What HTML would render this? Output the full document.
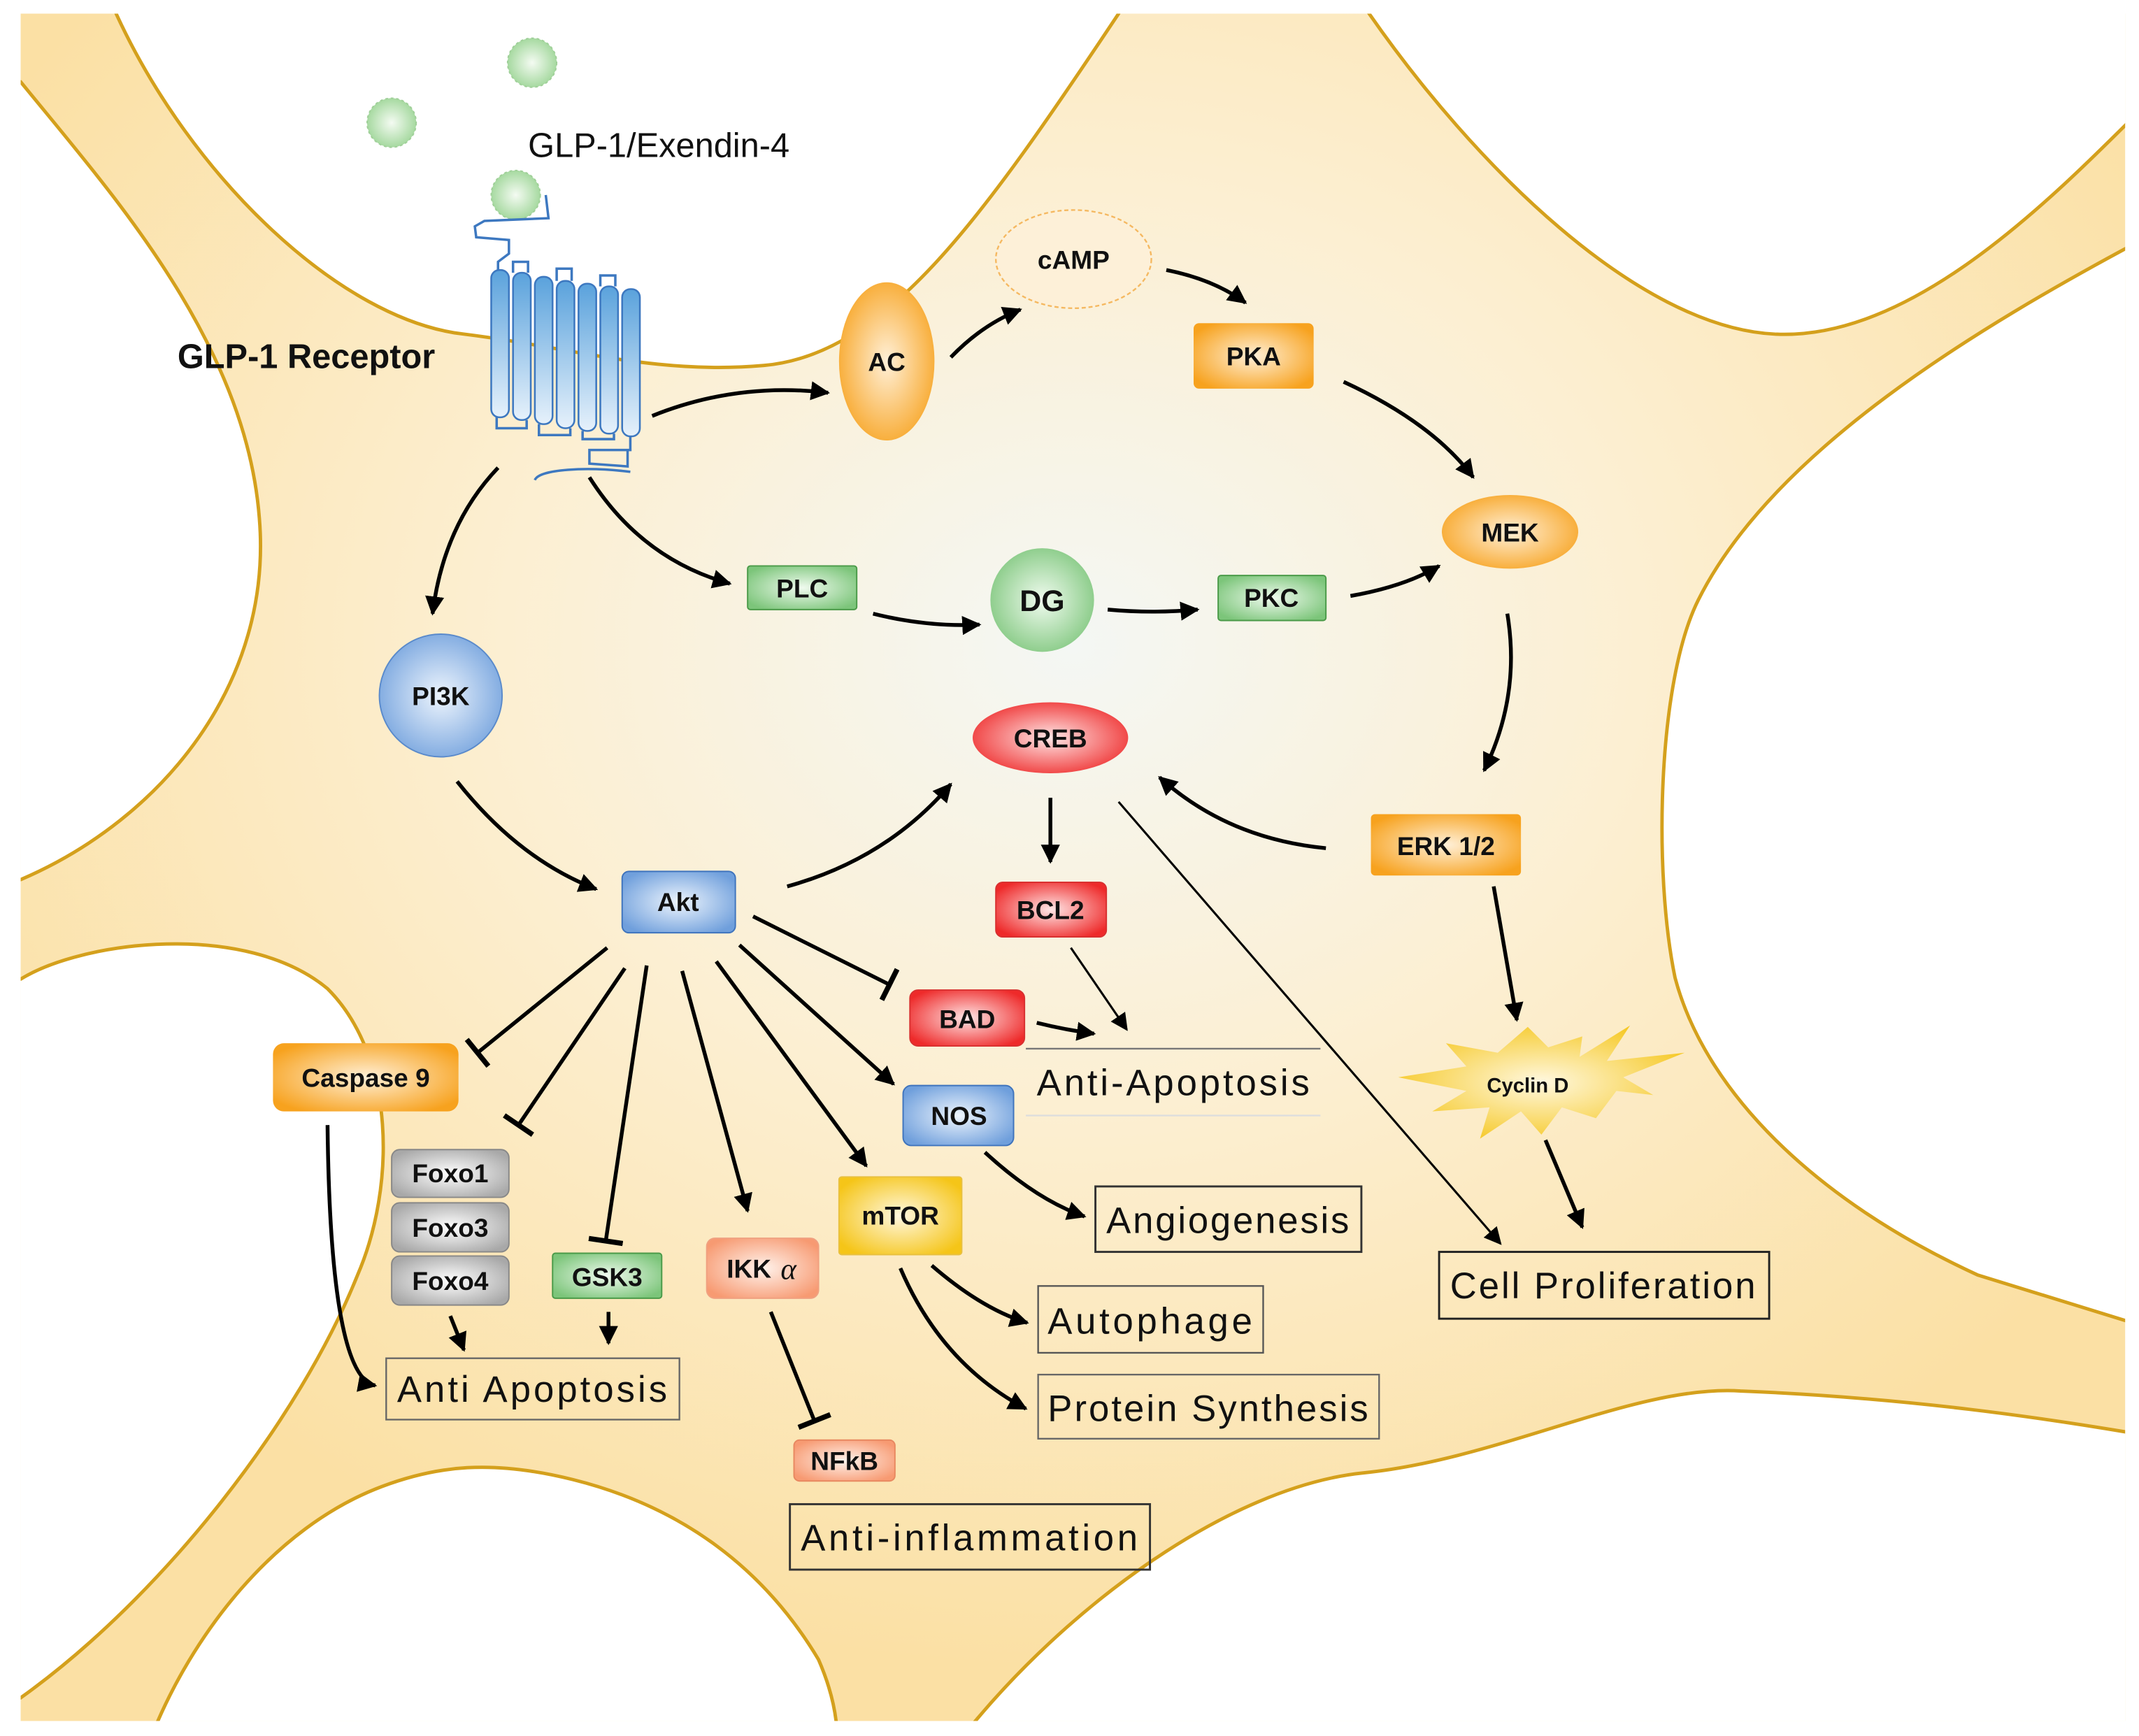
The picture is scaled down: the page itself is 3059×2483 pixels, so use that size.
<!DOCTYPE html>
<html><head><meta charset="utf-8"><style>html,body{margin:0;padding:0;background:#fff}svg{display:block}</style></head>
<body>
<svg width="3059" height="2483" viewBox="0 0 1568 1273" xmlns="http://www.w3.org/2000/svg" font-family="'Liberation Sans', sans-serif">
<defs>
<radialGradient id="bg" cx="0.5" cy="0.37" r="0.6">
<stop offset="0" stop-color="#f4f7f4"/><stop offset="0.45" stop-color="#fcefd2"/><stop offset="1" stop-color="#fbe0a4"/></radialGradient>
<radialGradient id="or" cx="0.5" cy="0.5" r="0.6"><stop offset="0" stop-color="#fff0d8"/><stop offset="1" stop-color="#f7a21e"/></radialGradient>
<radialGradient id="gr" cx="0.5" cy="0.5" r="0.6"><stop offset="0" stop-color="#f0fbef"/><stop offset="1" stop-color="#7cc57a"/></radialGradient>
<radialGradient id="bl" cx="0.5" cy="0.5" r="0.6"><stop offset="0" stop-color="#eef5fd"/><stop offset="1" stop-color="#6f9fdc"/></radialGradient>
<radialGradient id="rd" cx="0.5" cy="0.5" r="0.6"><stop offset="0" stop-color="#ffe6e6"/><stop offset="1" stop-color="#ee2a2a"/></radialGradient>
<radialGradient id="gy" cx="0.5" cy="0.5" r="0.6"><stop offset="0" stop-color="#ffffff"/><stop offset="1" stop-color="#a8a8a8"/></radialGradient>
<radialGradient id="sa" cx="0.5" cy="0.5" r="0.6"><stop offset="0" stop-color="#fff3ec"/><stop offset="1" stop-color="#f79a72"/></radialGradient>
<radialGradient id="ye" cx="0.5" cy="0.5" r="0.6"><stop offset="0" stop-color="#fff8e0"/><stop offset="1" stop-color="#f5c518"/></radialGradient>
<radialGradient id="lg" cx="0.5" cy="0.5" r="0.5"><stop offset="0" stop-color="#f4fbf2"/><stop offset="1" stop-color="#a6d9a0"/></radialGradient>
<linearGradient id="hx" x1="0" y1="0" x2="0" y2="1"><stop offset="0" stop-color="#5aa2dc"/><stop offset="1" stop-color="#e6f1fb"/></linearGradient>
<clipPath id="cl"><rect x="15" y="10" width="1543" height="1252"/></clipPath>
<marker id="ar" viewBox="0 0 10 10" refX="9" refY="5" markerWidth="5" markerHeight="5" orient="auto" markerUnits="strokeWidth"><path d="M0,0 L10,5 L0,10 z" fill="#000"/></marker>
<marker id="ar2" viewBox="0 0 10 10" refX="9" refY="5" markerWidth="8" markerHeight="8" orient="auto" markerUnits="strokeWidth"><path d="M0,0 L10,5 L0,10 z" fill="#000"/></marker>
<marker id="tee" viewBox="0 0 3 20" refX="1.5" refY="10" markerWidth="3" markerHeight="9" orient="auto" markerUnits="strokeWidth"><rect x="0" y="0" width="3" height="20" fill="#000"/></marker>
</defs>

<rect x="15" y="10" width="1543" height="1252" fill="url(#bg)"/>
<g clip-path="url(#cl)" fill="#fff" stroke="#d4a01c" stroke-width="2.5">
<path d="M85,-5 L85,10 C140,130 250,235 340,245 C420,255 480,275 560,268 C650,260 720,160 820,10 L820,-5 Z"/>
<path d="M0,60 L15,60 C80,140 180,250 190,380 C200,500 120,600 15,645 L0,645 Z"/>
<path d="M1003,-5 L1003,9 C1080,120 1200,240 1301,245 C1400,250 1500,150 1570,80 L1570,-5 Z"/>
<path d="M1570,176 C1450,240 1300,330 1245,440 C1215,500 1212,640 1228,717 C1250,800 1330,880 1450,935 L1570,972 Z"/>
<path d="M0,718 L15,718 C60,690 180,675 240,725 C290,775 290,870 262,935 C220,1040 120,1170 15,1245 L0,1245 Z"/>
<path d="M111,1280 L111,1273 C140,1200 200,1120 280,1090 C320,1075 360,1070 420,1085 C500,1105 560,1150 600,1217 C610,1240 614,1260 614,1280 Z"/>
<path d="M706,1280 L706,1273 C780,1180 900,1090 1000,1080 C1100,1070 1200,1015 1276,1020 C1400,1025 1500,1040 1570,1052 L1570,1280 Z"/>
</g>

<!-- ligands -->
<circle cx="287" cy="90" r="18" fill="url(#lg)" stroke="#9fcf98" stroke-dasharray="2 2"/>
<circle cx="390" cy="46" r="18" fill="url(#lg)" stroke="#9fcf98" stroke-dasharray="2 2"/>
<circle cx="378" cy="143" r="18" fill="url(#lg)" stroke="#9fcf98" stroke-dasharray="2 2"/>
<text x="387" y="115" font-size="25" fill="#111">GLP-1/Exendin-4</text>
<text x="130" y="270" font-size="25" font-weight="bold" fill="#111">GLP-1 Receptor</text>

<!-- receptor -->
<g stroke="#3d78c0" stroke-width="1.8" fill="none">
<path d="M400,143 L402,160 L355,162 L348,166 L349,174 L373,176 L373,186 L365,192 L365,198"/>
<path d="M376,200 L376,192 L387,192 L387,200"/>
<path d="M408,206 L408,197 L419,197 L419,206"/>
<path d="M440,210 L440,202 L451,202 L451,210"/>
<path d="M364,306 L364,314 L386,314 L386,308"/>
<path d="M395,311 L395,319 L418,319 L418,314"/>
<path d="M427,316 L427,322 L450,322 L450,318"/>
<path d="M462,320 L462,330 L432,330 L432,340 L460,342 L460,330"/>
<path d="M392,352 C395,344 430,342 462,346"/>
</g>
<g stroke="#3d78c0" stroke-width="1.3" fill="url(#hx)">
<rect x="360" y="198" width="13" height="108" rx="6"/>
<rect x="376" y="200" width="13" height="108" rx="6"/>
<rect x="392" y="203" width="13" height="108" rx="6"/>
<rect x="408" y="206" width="13" height="108" rx="6"/>
<rect x="424" y="208" width="13" height="108" rx="6"/>
<rect x="440" y="210" width="13" height="108" rx="6"/>
<rect x="456" y="212" width="13" height="108" rx="6"/>
</g>

<!-- nodes -->
<g font-weight="bold" font-size="19" text-anchor="middle" fill="#111">
<ellipse cx="650" cy="265" rx="35" ry="58" fill="url(#or)"/><text x="650" y="272">AC</text>
<ellipse cx="787" cy="190" rx="57" ry="36" fill="#fdf0d8" stroke="#f5b860" stroke-width="1.2" stroke-dasharray="3 2"/><text x="787" y="197">cAMP</text>
<rect x="875" y="237" width="88" height="48" rx="4" fill="url(#or)"/><text x="919" y="268">PKA</text>
<ellipse cx="1107" cy="390" rx="50" ry="27" fill="url(#or)"/><text x="1107" y="397">MEK</text>
<rect x="548" y="415" width="80" height="32" rx="2" fill="url(#gr)" stroke="#4a9a48"/><text x="588" y="438">PLC</text>
<circle cx="764" cy="440" r="38" fill="url(#gr)"/><text x="764" y="448" font-size="22">DG</text>
<rect x="893" y="422" width="79" height="33" rx="2" fill="url(#gr)" stroke="#4a9a48"/><text x="932" y="445">PKC</text>
<circle cx="323" cy="510" r="45" fill="url(#bl)" stroke="#5a8acb"/><text x="323" y="517">PI3K</text>
<ellipse cx="770" cy="541" rx="57" ry="26" fill="url(#rd)"/><text x="770" y="548">CREB</text>
<rect x="1005" y="597" width="110" height="45" rx="3" fill="url(#or)"/><text x="1060" y="627">ERK 1/2</text>
<rect x="456" y="639" width="83" height="45" rx="5" fill="url(#bl)" stroke="#3f74bd"/><text x="497" y="668">Akt</text>
<rect x="730" y="647" width="81" height="40" rx="5" fill="url(#rd)" stroke="#d83030"/><text x="770" y="674">BCL2</text>
<rect x="667" y="726" width="84" height="41" rx="6" fill="url(#rd)" stroke="#d83030"/><text x="709" y="754">BAD</text>
<rect x="200" y="765" width="136" height="50" rx="8" fill="url(#or)"/><text x="268" y="797">Caspase 9</text>
<rect x="662" y="796" width="81" height="44" rx="6" fill="url(#bl)" stroke="#3f74bd"/><text x="703" y="825">NOS</text>
<polygon points="1120,753 1135,768 1160,760 1158,775 1195,752 1178,778 1235,772 1190,790 1212,803 1185,800 1170,820 1145,812 1130,832 1115,815 1085,835 1092,812 1050,815 1075,800 1025,790 1075,782 1060,765 1098,772" fill="url(#ye)"/>
<text x="1120" y="801" font-size="15">Cyclin D</text>
<rect x="287" y="843" width="86" height="35" rx="6" fill="url(#gy)" stroke="#888"/><text x="330" y="867">Foxo1</text>
<rect x="287" y="882" width="86" height="36" rx="6" fill="url(#gy)" stroke="#888"/><text x="330" y="907">Foxo3</text>
<rect x="287" y="921" width="86" height="36" rx="6" fill="url(#gy)" stroke="#888"/><text x="330" y="946">Foxo4</text>
<rect x="405" y="919" width="80" height="33" rx="2" fill="url(#gr)" stroke="#4a9a48"/><text x="445" y="943">GSK3</text>
<rect x="518" y="908" width="82" height="44" rx="6" fill="url(#sa)" stroke="#f0a080"/><text x="549" y="937">IKK</text><text x="578" y="938" font-style="italic" font-weight="normal" font-family="'Liberation Serif',serif" font-size="22">α</text>
<rect x="615" y="863" width="90" height="57" rx="2" fill="url(#ye)" stroke="#e8c040"/><text x="660" y="898">mTOR</text>
<rect x="582" y="1056" width="74" height="30" rx="4" fill="url(#sa)" stroke="#e88860"/><text x="619" y="1078">NFkB</text>
</g>

<!-- outcome boxes -->
<g font-size="27" fill="#111" stroke="none">
<line x1="752" y1="769" x2="968" y2="769" stroke="#777" stroke-width="1.2"/>
<line x1="752" y1="818" x2="968" y2="818" stroke="#ddd" stroke-width="1.2"/>
<text x="760" y="803" textLength="200">Anti-Apoptosis</text>
<rect x="803" y="870" width="195" height="48" fill="none" stroke="#333" stroke-width="1.5"/>
<text x="811" y="904" textLength="178">Angiogenesis</text>
<rect x="1055" y="918" width="242" height="49" fill="none" stroke="#222" stroke-width="1.5"/>
<text x="1063" y="952" textLength="224">Cell Proliferation</text>
<rect x="761" y="943" width="165" height="49" fill="none" stroke="#555" stroke-width="1.2"/>
<text x="768" y="978" textLength="150">Autophage</text>
<rect x="761" y="1008" width="250" height="47" fill="none" stroke="#666" stroke-width="1.2"/>
<text x="768" y="1042" textLength="235">Protein Synthesis</text>
<rect x="283" y="996" width="215" height="45" fill="none" stroke="#666" stroke-width="1.2"/>
<text x="291" y="1028" textLength="198">Anti Apoptosis</text>
<rect x="579" y="1103" width="264" height="48" fill="none" stroke="#333" stroke-width="1.5"/>
<text x="587" y="1137" textLength="247">Anti-inflammation</text>
</g>

<!-- arrows -->
<g fill="none" stroke="#000" stroke-width="2.8" marker-end="url(#ar)">
<path d="M478,305 Q540,280 607,288"/>
<path d="M697,262 Q720,238 748,227"/>
<path d="M855,198 Q890,205 913,222"/>
<path d="M985,280 Q1050,310 1080,350"/>
<path d="M990,437 Q1030,430 1055,415"/>
<path d="M1105,450 Q1115,510 1088,565"/>
<path d="M972,622 Q900,615 850,570"/>
<path d="M365,343 Q325,385 317,450"/>
<path d="M432,350 Q470,410 535,428"/>
<path d="M640,450 Q680,460 718,458"/>
<path d="M812,447 Q845,450 878,447"/>
<path d="M335,573 Q380,630 437,652"/>
<path d="M577,650 Q650,630 697,575"/>
<path d="M770,585 L770,632"/>
<path d="M1095,650 L1112,748"/>
<path d="M1133,836 L1160,900"/>
<path d="M760,750 Q780,755 802,758"/>
<path d="M542,693 L655,795"/>
<path d="M525,705 L635,855"/>
<path d="M500,712 L548,888"/>
<path d="M240,825 Q242,1010 275,1016"/>
<path d="M330,965 L340,990"/>
<path d="M446,962 L446,985"/>
<path d="M722,845 Q760,880 795,892"/>
<path d="M683,928 Q720,960 753,970"/>
<path d="M660,930 Q690,1000 752,1033"/>
</g>
<g fill="none" stroke="#000" stroke-width="1.6" marker-end="url(#ar2)">
<path d="M820,588 L1100,912"/>
<path d="M785,695 L826,755"/>
</g>
<g fill="none" stroke="#000" stroke-width="2.8" marker-end="url(#tee)">
<path d="M552,672 L652,722"/>
<path d="M474,708 L444,910"/>
<path d="M458,710 L380,825"/>
<path d="M445,695 L350,772"/>
<path d="M565,962 L597,1042"/>
</g>
</svg>
</body></html>
